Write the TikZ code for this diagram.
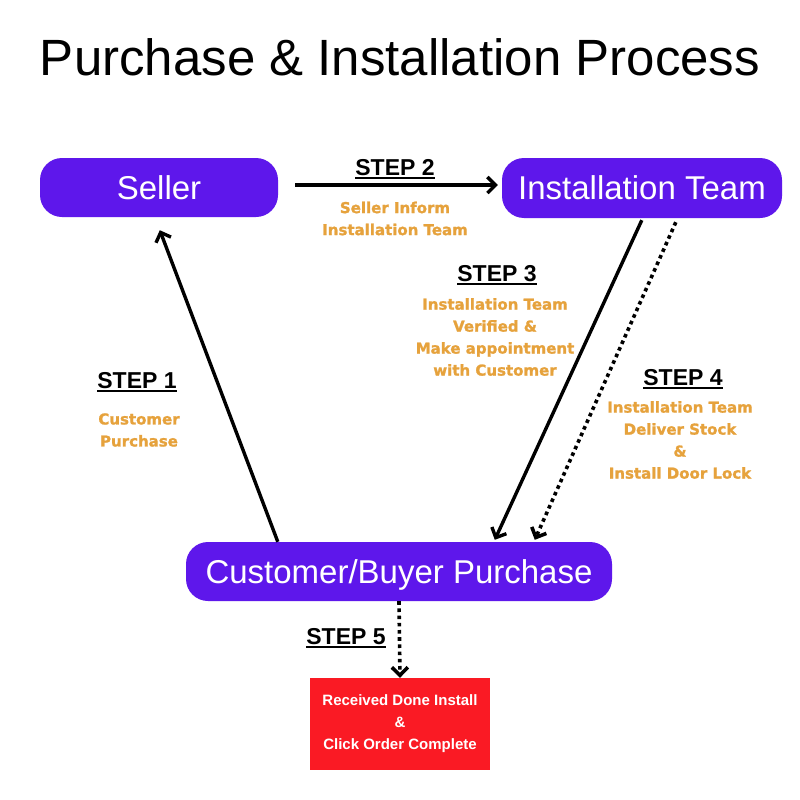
\documentclass[tikz,border=0pt]{standalone}
\usepackage{fontspec}
\setmainfont{Liberation Sans}
\newfontfamily\orfont{DejaVu Sans}[BoldFeatures={FakeBold=1.3}]
\usetikzlibrary{arrows.meta,calc}
\definecolor{purp}{HTML}{5E17EB}
\definecolor{orng}{HTML}{E6A23C}
\definecolor{redbox}{HTML}{FA1A24}
\newcommand\myul[1]{\setbox0\hbox{#1}\rlap{\rule[-3.5pt]{\wd0}{2pt}}\box0}
\tikzset{
  pill/.style={fill=purp, rounded corners=22pt, text=white, font=\fontsize{33}{40}\selectfont, text height=23.6pt, text depth=0pt, inner sep=0pt},
  steplab/.style={font=\bfseries\fontsize{23}{27}\selectfont, anchor=base, inner sep=0pt},
  note/.style={text=orng, font=\orfont\bfseries\fontsize{15}{22}\selectfont, align=center, inner sep=0pt},
  conn/.style={line width=3.4pt, -{Straight Barb[length=8pt,width=16pt]}},
  dotconn/.style={line width=3.6pt, dash pattern=on 3.6pt off 3.6pt, -{Straight Barb[length=8pt,width=16pt]}}
}
\begin{document}
\begin{tikzpicture}[x=1pt,y=-1pt]
\fill[white] (0,0) rectangle (800,800);
\useasboundingbox (0,0) rectangle (800,800);
\node[anchor=base, inner sep=0pt, font=\fontsize{51}{60}\selectfont] (title) at (400,75) {Purchase \& Installation Process};
\node[pill, minimum width=238pt, minimum height=59pt] (seller) at (159,187.5) {Seller};
\node[pill, minimum width=280pt, minimum height=60pt] (inst) at (642,188) {Installation Team};
\node[pill, minimum width=426pt, minimum height=59pt] (cust) at (399,571.5) {Customer/Buyer Purchase};
\node[fill=redbox, minimum width=180pt, minimum height=92pt, inner sep=0pt, text=white, align=center, font=\bfseries\fontsize{15}{22}\selectfont] (done) at (400,724) {Received Done Install\\\&\\Click Order Complete};
% connectors
\draw[conn] ($(cust.north west)+(92,0)$) -- ($(seller.south west)+(120,13)$);
\draw[conn] ($(seller.east)+(17,-2.5)$) -- ($(inst.west)+(-4,-3)$);
\draw[conn] ($(inst.south west)+(140,2)$) -- ($(cust.north west)+(309,-2)$);
\draw[dotconn] ($(inst.south west)+(174,4)$) -- ($(cust.north west)+(349,-2)$);
\draw[dotconn] (cust.south) -- (done.north);
% labels
\node[steplab] (s1) at (137,388) {\myul{STEP 1}};
\node[steplab] (s2) at (395,175) {\myul{STEP 2}};
\node[steplab] (s3) at (497,281) {\myul{STEP 3}};
\node[steplab] (s4) at (683,385) {\myul{STEP 4}};
\node[steplab] (s5) at (346,644) {\myul{STEP 5}};
\node[note] (n1) at (139,430) {Customer\\ Purchase};
\node[note] (n2) at (395,218.5) {Seller Inform\\Installation Team};
\node[note] (n3) at (495,337) {Installation Team\\Verified \&\\Make appointment\\with Customer};
\node[note] (n4) at (680,440) {Installation Team\\Deliver Stock\\\&\\Install Door Lock};
\end{tikzpicture}
\end{document}
